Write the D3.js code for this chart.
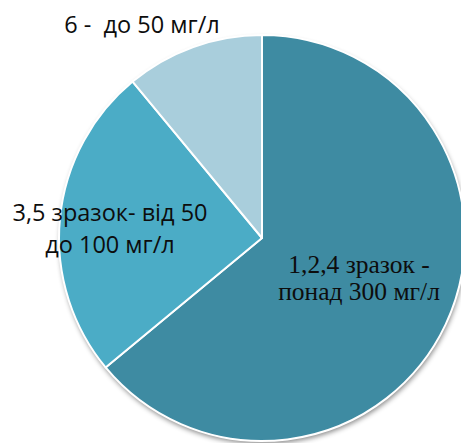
<!DOCTYPE html>
<html>
<head>
<meta charset="utf-8">
<script src="https://cdn.jsdelivr.net/npm/d3@7"></script>
<style>
  html, body { margin: 0; padding: 0; background: #fff; overflow: hidden; }
  text { white-space: pre; }
</style>
</head>
<body>
<svg id="chart" width="461" height="443"></svg>
<script>
// data
var categories = ["1,2,4 зразок - понад 300 мг/л", "3,5 зразок- від 50 до 100 мг/л", "6 -  до 50 мг/л"];
var values = [64, 25, 11];
var labelLines = [["1,2,4 зразок -", "понад 300 мг/л"], ["3,5 зразок- від 50", "до 100 мг/л"], ["6 -  до 50 мг/л"]];
var colors = ["#3e8ba2", "#4bacc6", "#a9cedc"];

var svg = d3.select("#chart"),
    cx = 262, cy = 238, radius = 203;

var defs = svg.append("defs");
var shadow = defs.append("filter")
    .attr("id", "shadow")
    .attr("x", "-10%").attr("y", "-10%")
    .attr("width", "120%").attr("height", "120%");
shadow.append("feDropShadow")
    .attr("dx", 1).attr("dy", 3)
    .attr("stdDeviation", 2.5)
    .attr("flood-color", "#000")
    .attr("flood-opacity", 0.45);

var pie = d3.pie().sort(null).value(function (d) { return d; });
var arc = d3.arc().innerRadius(0).outerRadius(radius);

var arcs = pie(values);

var g = svg.append("g")
    .attr("transform", "translate(" + cx + "," + cy + ")");

// shadow under the whole disc
g.append("circle")
    .attr("r", radius)
    .attr("fill", "#fff")
    .attr("filter", "url(#shadow)");

g.selectAll("path.slice")
    .data(arcs)
    .enter().append("path")
    .attr("class", "slice")
    .attr("d", arc)
    .attr("fill", function (d, i) { return colors[i]; })
    .attr("stroke", "#fff")
    .attr("stroke-width", 2)
    .attr("stroke-linejoin", "round");

// label positions (layout, in px relative to pie centre)
var serif = "'Liberation Serif', 'Times New Roman', serif",
    sans = "'Open Sans', 'Noto Sans', sans-serif";
var labelPos = [
    {x: 97, y: 35, font: serif, size: 25.5, gap: 27},
    {x: -152, y: -17, font: sans, size: 23.5, gap: 32},
    {x: -120, y: -205, font: sans, size: 23.5, gap: 32}
];

arcs.forEach(function (d, i) {
    var p = labelPos[i];
    var t = g.append("text")
        .attr("text-anchor", "middle")
        .style("font-family", p.font)
        .style("font-size", p.size + "px")
        .attr("fill", "#0d0d0d");
    labelLines[i].forEach(function (line, j) {
        t.append("tspan")
            .attr("x", p.x)
            .attr("y", p.y + j * p.gap)
            .text(line);
    });
});
</script>
</body>
</html>
